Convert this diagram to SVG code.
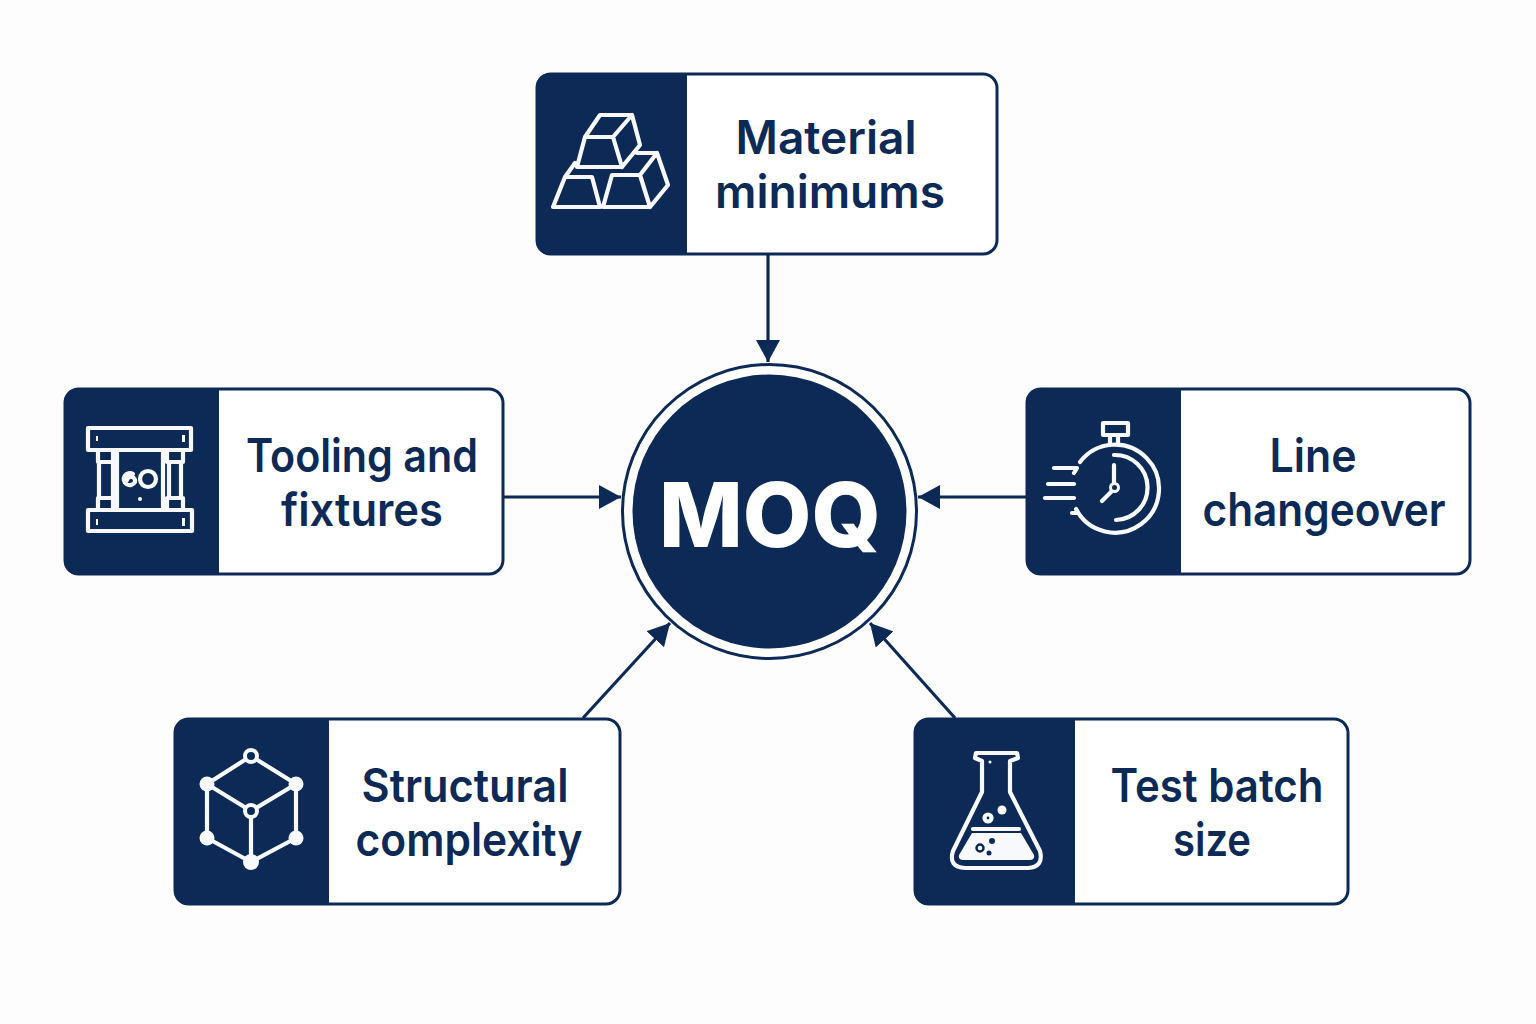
<svg xmlns="http://www.w3.org/2000/svg" width="1536" height="1024" viewBox="0 0 1536 1024">
<style>
.card{fill:#fff;stroke:#0d2a56;stroke-width:3}
.head{fill:#0d2a56}
.ico{fill:none;stroke:#f7f9fc;stroke-width:4.200;stroke-linejoin:round;stroke-linecap:round}
.fillw{fill:#f7f9fc}
.navy{fill:#0d2a56}
.lbl{font-family:"Inter","Liberation Sans",sans-serif;font-weight:600;font-size:46px;fill:#0d2a56;text-anchor:middle}
.edge{fill:none;stroke:#0d2a56;stroke-width:3.200}
</style>
<defs>
<marker id="ah" markerUnits="userSpaceOnUse" markerWidth="24" markerHeight="26" refX="22" refY="12" orient="auto"><path d="M0,0L22,12L0,24Z" fill="#0d2a56"/></marker>
</defs>
<rect width="1536" height="1024" fill="#fdfdfe"/>
<g id="connectors">
<path class="edge" marker-end="url(#ah)" d="M768,255V362"/>
<path class="edge" marker-end="url(#ah)" d="M504,497H621"/>
<path class="edge" marker-end="url(#ah)" d="M1026,497H918"/>
<path class="edge" marker-end="url(#ah)" d="M583,718L670,623"/>
<path class="edge" marker-end="url(#ah)" d="M955,718L870,623"/>
</g>
<g id="moq">
<circle cx="769.500" cy="511.500" r="147" fill="#fff" stroke="#0d2a56" stroke-width="3"/>
<circle cx="769.500" cy="511.500" r="137" fill="#0d2a56"/>
<text x="770" y="546.500" text-anchor="middle" font-family="Inter,'Liberation Sans',sans-serif" font-weight="800" font-size="90" fill="#fff" textLength="222" lengthAdjust="spacingAndGlyphs">MOQ</text>
</g>
<g id="material">
<rect class="card" x="537" y="74" width="460" height="180" rx="14"/>
<path class="head" d="M687,73H550a14,14 0 0 0-14,14V241a14,14 0 0 0 14,14H687Z"/>
<path class="ico" d="M585,137L600,115H632L613,137ZM585,137H613L622,167H577ZM632,115L640,145L622,167M565,177H592L600,207H553ZM565,177L575,163M612,175H640L650,207H603ZM640,175L657,153H637M657,153L668,185L650,207"/>
<text class="lbl" x="826" y="154" textLength="181" lengthAdjust="spacingAndGlyphs">Material</text>
<text class="lbl" x="830" y="208" textLength="230" lengthAdjust="spacingAndGlyphs">minimums</text>
</g>
<g id="tooling">
<rect class="card" x="65" y="389" width="438" height="185" rx="14"/>
<path class="head" d="M219,388H78a14,14 0 0 0-14,14V561a14,14 0 0 0 14,14H219Z"/>
<path class="ico" d="M88,428H191V450H88ZM88,510H192V531H88ZM117,450H163V510H117ZM98,450H113V462H98ZM98,498H113V510H98ZM99,462V498M113,462V498M167,450H183V462H167ZM167,498H183V510H167ZM169,462V498M181,462V498"/>
<path class="ico" stroke-width="3" d="M133,474A6,6 0 1 0 135,482A4,4 0 1 0 127,480"/><circle class="ico" cx="148" cy="479" r="8"/>
<circle class="fillw" cx="140" cy="499" r="2"/>
<rect class="fillw" x="96" y="436" width="2" height="5"/><rect class="fillw" x="182" y="435" width="3" height="7"/><rect class="fillw" x="96" y="519" width="2" height="6"/><rect class="fillw" x="182" y="518" width="3" height="8"/>
<text class="lbl" x="362" y="472" textLength="232" lengthAdjust="spacingAndGlyphs">Tooling and</text>
<text class="lbl" x="362" y="526" textLength="162" lengthAdjust="spacingAndGlyphs">fixtures</text>
</g>
<g id="line">
<rect class="card" x="1027" y="389" width="443" height="185" rx="14"/>
<path class="head" d="M1181,388H1040a14,14 0 0 0-14,14V561a14,14 0 0 0 14,14H1181Z"/>
<path class="ico" d="M1080,462A44,44 0 1 1 1076,509M1114,455A32,32 0 0 1 1116,520M1103,423H1128V435H1103ZM1110,435V443M1118,435V443M1114,465V484M1112,491L1102,501M1054,468H1077L1074,473M1048,484H1074M1045,498H1074M1072,513H1078"/>
<circle cx="1114.500" cy="487.500" r="4" fill="#0d2a56" stroke="#f7f9fc" stroke-width="3"/>
<text class="lbl" x="1313" y="472" textLength="87" lengthAdjust="spacingAndGlyphs">Line</text>
<text class="lbl" x="1324" y="526" textLength="243" lengthAdjust="spacingAndGlyphs">changeover</text>
</g>
<g id="structural">
<rect class="card" x="175" y="719" width="445" height="185" rx="14"/>
<path class="head" d="M329,718H188a14,14 0 0 0-14,14V891a14,14 0 0 0 14,14H329Z"/>
<path class="ico" d="M251,756L296,784V838L251,862L207,838V784ZM207,784L251,811L296,784M251,811V862"/>
<circle class="fillw" cx="207" cy="784" r="7.500"/><circle class="fillw" cx="296" cy="784" r="7.500"/><circle class="fillw" cx="207" cy="838" r="7.500"/><circle class="fillw" cx="296" cy="838" r="7.500"/><circle class="fillw" cx="251" cy="862" r="8"/>
<circle cx="251" cy="756" r="6" fill="#0d2a56" stroke="#f7f9fc" stroke-width="4"/><circle cx="251" cy="811" r="6" fill="#0d2a56" stroke="#f7f9fc" stroke-width="4"/>
<text class="lbl" x="465" y="802" textLength="207" lengthAdjust="spacingAndGlyphs">Structural</text>
<text class="lbl" x="469" y="856" textLength="227" lengthAdjust="spacingAndGlyphs">complexity</text>
</g>
<g id="test">
<rect class="card" x="915" y="719" width="433" height="185" rx="14"/>
<path class="head" d="M1075,718H928a14,14 0 0 0-14,14V891a14,14 0 0 0 14,14H1075Z"/>
<path class="ico" d="M976,753H1017L1018,758L1010,761V792L1040,851Q1044,867 1028,868H965Q948,867 953,851L982,792V761L975,758Z"/>
<path class="ico" d="M973,829H1019"/>
<path class="fillw" d="M972,833H1021L1034,855Q1035,860 1030,860H963Q958,860 959,855Z"/>
<circle class="ico" cx="988" cy="818" r="3.500"/><circle class="fillw" cx="1002" cy="810" r="4.500"/>
<circle cx="980" cy="848" r="3.500" fill="#f7f9fc" stroke="#0d2a56" stroke-width="2.500"/><circle class="navy" cx="992" cy="841" r="3"/><circle class="navy" cx="989" cy="853" r="2.500"/>
<circle class="fillw" cx="990" cy="762" r="1.500"/>
<text class="lbl" x="1217" y="802" textLength="213" lengthAdjust="spacingAndGlyphs">Test batch</text>
<text class="lbl" x="1212" y="856" textLength="78" lengthAdjust="spacingAndGlyphs">size</text>
</g>
</svg>
